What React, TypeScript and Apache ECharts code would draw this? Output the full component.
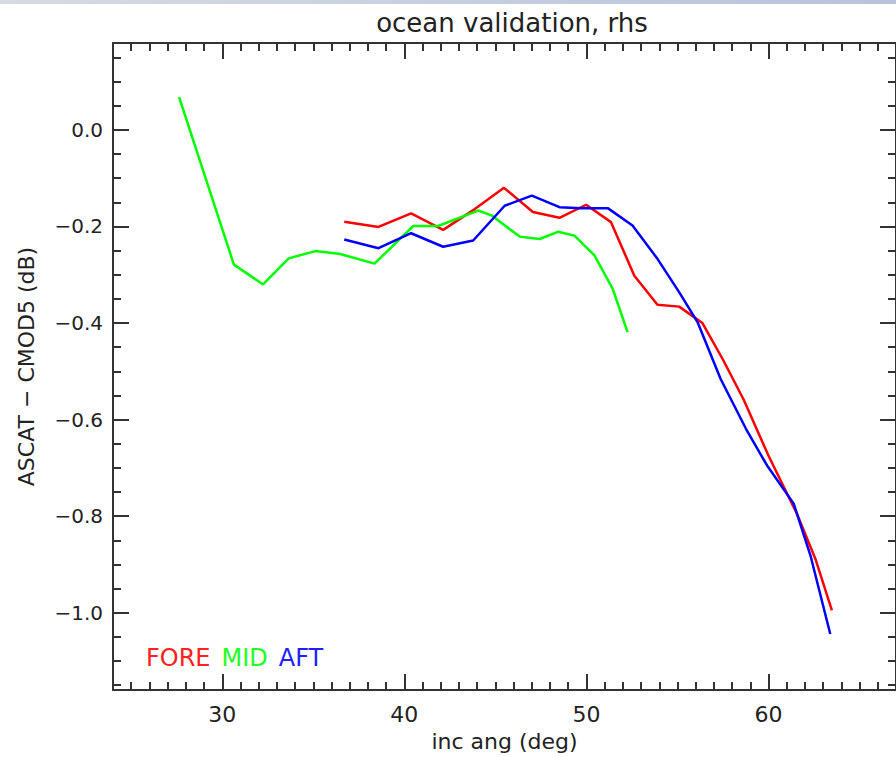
import React, { useEffect, useRef } from "react";
import * as echarts from "echarts";

// FORE (red)
const foreX = [36.7, 38.58, 40.37, 42.13, 43.87, 45.47, 47.06, 48.52, 49.98, 51.35, 52.63, 53.9, 55.09, 56.37, 57.5, 58.65, 60.0, 61.56, 62.57, 63.48];
const foreY = [-0.19, -0.201, -0.173, -0.207, -0.164, -0.12, -0.17, -0.182, -0.155, -0.191, -0.302, -0.362, -0.366, -0.4, -0.476, -0.56, -0.675, -0.795, -0.888, -0.995];
// MID (green)
const midX = [27.63, 30.64, 32.24, 33.65, 35.11, 36.48, 38.36, 40.49, 41.86, 44.05, 44.78, 46.33, 47.43, 48.43, 49.34, 50.44, 51.44, 52.26];
const midY = [0.068, -0.279, -0.32, -0.266, -0.251, -0.257, -0.277, -0.199, -0.199, -0.167, -0.177, -0.221, -0.226, -0.211, -0.219, -0.26, -0.329, -0.419];
// AFT (blue)
const aftX = [36.7, 38.58, 40.37, 42.13, 43.78, 45.51, 47.0, 48.52, 49.7, 51.17, 52.53, 53.9, 55.09, 56.1, 57.37, 58.76, 59.92, 61.38, 62.3, 63.39];
const aftY = [-0.227, -0.245, -0.214, -0.242, -0.229, -0.157, -0.136, -0.16, -0.162, -0.162, -0.198, -0.267, -0.336, -0.398, -0.516, -0.619, -0.695, -0.774, -0.881, -1.044];

const xMajorTicks = [30, 40, 50, 60];
const yMajorTicks = [-1.0, -0.8, -0.6, -0.4, -0.2, 0.0];
const X_MIN = 24, X_MAX = 67;
const Y_MIN = -1.16, Y_MAX = 0.18;

const FONT = "DejaVu Sans";

function minorValues(min: number, max: number, step: number, majorStep: number) {
  const out: number[] = [];
  const start = Math.ceil(min / step - 1e-9);
  const end = Math.floor(max / step + 1e-9);
  for (let i = start; i <= end; i++) {
    const v = +(i * step).toFixed(4);
    const r = Math.abs(v / majorStep - Math.round(v / majorStep));
    if (r > 1e-6) out.push(v);
  }
  return out;
}

export default function App() {
  const ref = useRef<HTMLDivElement>(null);
  useEffect(() => {
    if (!ref.current) return;
    const chart = echarts.init(ref.current, undefined, { renderer: "svg" });
    const xMinor = minorValues(X_MIN, X_MAX, 1, 10);
    const yMinor = minorValues(Y_MIN, Y_MAX, 0.05, 0.2);
    const axisColor = "#333";
    const mkX = (pos: "bottom" | "top", major: boolean, main: boolean) => ({
      type: "value",
      position: pos,
      min: X_MIN,
      max: X_MAX,
      gridIndex: 0,
      axisLine: { show: main, onZero: false, lineStyle: { color: axisColor, width: 2 } },
      axisTick: {
        show: true,
        inside: true,
        length: major ? 16 : 8,
        customValues: major ? xMajorTicks : xMinor,
        lineStyle: { color: axisColor, width: 2 },
      },
      axisLabel: pos === "bottom" && major
        ? { show: true, customValues: xMajorTicks, margin: 13, color: "#222", fontFamily: FONT, fontSize: 22 }
        : { show: false },
      splitLine: { show: false },
      name: pos === "bottom" && major && main ? "inc ang (deg)" : "",
      nameLocation: "middle",
      nameGap: 40,
      nameTextStyle: { color: "#222", fontFamily: FONT, fontSize: 22 },
    });
    const mkY = (pos: "left" | "right", major: boolean, main: boolean) => ({
      type: "value",
      position: pos,
      min: Y_MIN,
      max: Y_MAX,
      gridIndex: 0,
      axisLine: { show: main, onZero: false, lineStyle: { color: axisColor, width: 2 } },
      axisTick: {
        show: true,
        inside: true,
        length: major ? 16 : 8,
        customValues: major ? yMajorTicks : yMinor,
        lineStyle: { color: axisColor, width: 2 },
      },
      axisLabel: pos === "left" && major
        ? {
            show: true,
            customValues: yMajorTicks,
            margin: 10,
            color: "#222",
            fontFamily: FONT,
            fontSize: 20,
            formatter: (v: number) => v.toFixed(1).replace("-", "\u2212"),
          }
        : { show: false },
      splitLine: { show: false },
      name: pos === "left" && major && main ? "ASCAT \u2212 CMOD5 (dB)" : "",
      nameLocation: "middle",
      nameGap: 76,
      nameTextStyle: { color: "#222", fontFamily: FONT, fontSize: 22 },
    });
    const toPairs = (xs: number[], ys: number[]) => xs.map((x, i) => [x, ys[i]]);
    const line = (name: string, color: string, xs: number[], ys: number[]) => ({
      name,
      type: "line",
      xAxisIndex: 0,
      yAxisIndex: 0,
      data: toPairs(xs, ys),
      showSymbol: false,
      symbol: "none",
      lineStyle: { color, width: 2.5 },
      itemStyle: { color },
    });
    chart.setOption({
      animation: false,
      backgroundColor: "#ffffff",
      title: {
        text: "ocean validation, rhs",
        left: 507,
        textAlign: "center",
        top: 5,
        textStyle: { fontFamily: FONT, fontSize: 26, fontWeight: "normal", color: "#222" },
      },
      grid: { left: 113, top: 43, width: 788, height: 649, containLabel: false },
      xAxis: [mkX("bottom", true, true), mkX("bottom", false, false), mkX("top", true, true), mkX("top", false, false)],
      yAxis: [mkY("left", true, true), mkY("left", false, false), mkY("right", true, true), mkY("right", false, false)],
      legend: {
        left: 136,
        top: 641,
        itemWidth: 0,
        itemHeight: 0,
        itemGap: 6,
        icon: "rect",
        textStyle: { fontFamily: FONT, fontSize: 24 },
        data: [
          { name: "FORE", textStyle: { color: "#ff2020" } },
          { name: "MID", textStyle: { color: "#20ff20" } },
          { name: "AFT", textStyle: { color: "#2020ff" } },
        ],
      },
      graphic: [
        {
          type: "rect",
          left: 0,
          top: 0,
          shape: { width: 896, height: 4 },
          style: {
            fill: new echarts.graphic.LinearGradient(0, 0, 1, 0, [
              { offset: 0, color: "#d6dae2" },
              { offset: 1, color: "#b7c3dc" },
            ]),
          },
          silent: true,
        },
      ],
      series: [
        line("FORE", "#ff0000", foreX, foreY),
        line("MID", "#00ff00", midX, midY),
        line("AFT", "#0000ff", aftX, aftY),
      ],
    });
    return () => chart.dispose();
  }, []);
  return (
    <div
      ref={ref}
      style={{ position: "absolute", left: 0, top: 0, width: 896, height: 757 }}
    />
  );
}
